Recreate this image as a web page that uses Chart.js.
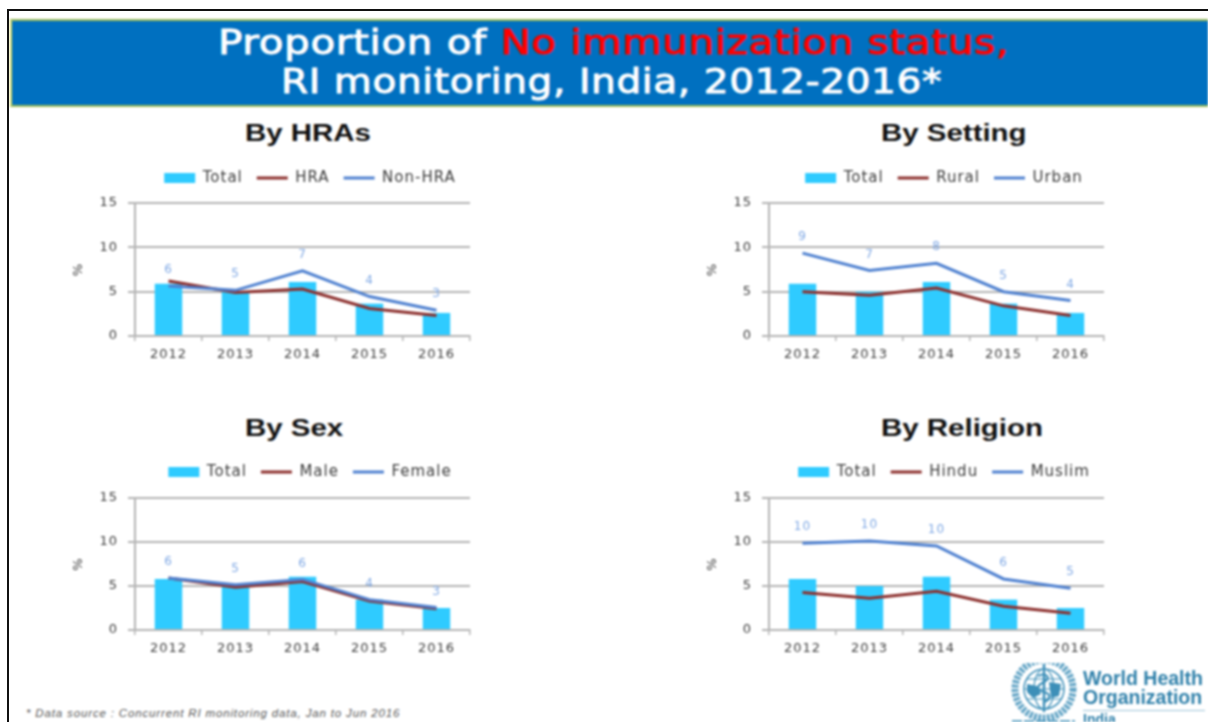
<!DOCTYPE html>
<html>
<head>
<meta charset="utf-8">
<script src="https://cdn.jsdelivr.net/npm/chart.js@4"></script>
<style>
html,body{margin:0;padding:0;background:#fff;width:1208px;height:722px;overflow:hidden}
#wrap{position:absolute;left:0;top:0;width:1208px;height:722px;overflow:hidden;filter:blur(0.85px);background:#fff}
.abs{position:absolute;white-space:nowrap}
#frameT{left:7px;top:9px;width:1201px;height:2px;background:#111}
#frameL{left:7px;top:9px;width:2px;height:713px;background:#111}
#banner{left:10px;top:19px;width:1198px;height:84px;background:#0070c0;border-top:2px solid #9bbb59;border-bottom:2px solid #9bbb59;border-left:2px solid #d8dc6a;box-sizing:content-box}
.bt{font-family:"DejaVu Sans";font-size:33px;font-weight:400;color:#fff;-webkit-text-stroke:0.9px currentColor;line-height:38px;letter-spacing:0.55px;transform-origin:0 0}
.red{color:#ff0000}
.ttl{font-family:"Liberation Sans";font-weight:700;font-size:23px;color:#111;line-height:26px;transform-origin:0 0;transform:scaleX(1.28)}
canvas{position:absolute}
#foot{left:26px;top:706px;font-family:"Liberation Sans";font-style:italic;font-size:11.5px;letter-spacing:0.85px;color:#555;line-height:14px}
.who{font-family:"Liberation Sans";font-weight:700;color:#2f80aa;font-size:19.5px;line-height:20px;left:1083px}
</style>
</head>
<body>
<div id="wrap">
  <div class="abs" id="banner"></div>
  <div class="abs bt" style="left:218px;top:24px;transform:scaleX(1.224)">Proportion of <span class="red">No immunization status,</span></div>
  <div class="abs bt" style="left:281px;top:63px;transform:scaleX(1.18)">RI monitoring, India, 2012-2016*</div>

  <div class="abs ttl" style="left:245px;top:120px">By HRAs</div>
  <div class="abs ttl" style="left:881px;top:120px">By Setting</div>
  <div class="abs ttl" style="left:245px;top:415px">By Sex</div>
  <div class="abs ttl" style="left:881px;top:415px">By Religion</div>

  <canvas id="c1" width="500" height="210" style="left:60px;top:161px;width:500px;height:210px"></canvas>
  <canvas id="c2" width="500" height="210" style="left:694px;top:161px;width:500px;height:210px"></canvas>
  <canvas id="c3" width="500" height="210" style="left:60px;top:456px;width:500px;height:210px"></canvas>
  <canvas id="c4" width="500" height="210" style="left:694px;top:456px;width:500px;height:210px"></canvas>

  <div class="abs" id="foot">* Data source : Concurrent RI monitoring data, Jan to Jun 2016</div>

  <svg class="abs" style="left:1009px;top:663px" width="72" height="60" viewBox="0 0 72 60">
    <g fill="none" stroke="#3d8fb8">
      <circle cx="35" cy="26" r="29" stroke-width="7" stroke-dasharray="3 1.4" opacity=".8"/>
      <circle cx="35" cy="26" r="20" stroke-width="1.5"/>
      <ellipse cx="35" cy="26" rx="10" ry="20" stroke-width="1.2"/>
      <path d="M15 26H55M18 16H52M18 36H52" stroke-width="1.2"/>
      <path d="M35 1V49" stroke-width="2.5"/>
      <path d="M29 13c8-4 14 2 6 6s-8 8 0 10 6 8 0 10" stroke-width="2.2"/>
    </g>
    <path d="M18 21l10 2 4 8-8 4-6-6zM40 19l12 2-2 12-8 2z" fill="#3d8fb8"/>
    <path d="M3 58H66" stroke="#3d8fb8" stroke-width="1.5" stroke-dasharray="10 2"/>
  </svg>
  <div class="abs who" style="top:668px">World Health</div>
  <div class="abs who" style="top:687px">Organization</div>
  <div class="abs" style="left:1083px;top:710px;width:122px;height:1px;background:#9cc4d8"></div>
  <div class="abs who" style="top:711px;font-size:14px;line-height:16px">India</div>
</div>
<div class="abs" id="frameT"></div>
<div class="abs" id="frameL"></div>

<script>
const years = ['2012','2013','2014','2015','2016'];

const hraTotal = [5.9, 5.0, 6.1, 3.65, 2.6];
const hraLine = [6.2, 4.9, 5.3, 3.1, 2.3];
const nonHraLine = [5.65, 5.15, 7.35, 4.45, 2.9];
const hraLabels = ['6','5','7','4','3'];

const settingTotal = [5.9, 5.0, 6.1, 3.65, 2.6];
const ruralLine = [5.0, 4.6, 5.4, 3.4, 2.3];
const urbanLine = [9.35, 7.4, 8.2, 5.0, 4.0];
const settingLabels = ['9','7','8','5','4'];

const sexTotal = [5.8, 5.0, 6.05, 3.45, 2.5];
const maleLine = [5.9, 4.85, 5.5, 3.3, 2.4];
const femaleLine = [5.9, 5.15, 5.75, 3.45, 2.55];
const sexLabels = ['6','5','6','4','3'];

const religionTotal = [5.8, 5.0, 6.05, 3.45, 2.5];
const hinduLine = [4.25, 3.6, 4.4, 2.7, 1.9];
const muslimLine = [9.85, 10.1, 9.55, 5.8, 4.75];
const religionLabels = ['10','10','10','6','5'];

const yTicks = [0, 5, 10, 15];

const BAR = '#2fcbff', RED = '#8c2f2d', BLUE = '#4f81d0', LABEL = '#7fa8e4', TXT = '#3c3c3c', GRID = '#b4b4b4';
const FONT = '"DejaVu Sans"';

const spacing = {
  id: 'spacing',
  beforeUpdate(c){ c.ctx.letterSpacing = '1px'; },
  beforeLayout(c){ c.ctx.letterSpacing = '1px'; },
  beforeDraw(c){ c.ctx.letterSpacing = '1px'; }
};
const placeLegend = {
  id: 'placeLegend',
  afterLayout(c, args, opts){
    const l = c.legend, h = l.bottom - l.top;
    l.left += opts.dx; l.right += opts.dx;
    l.top = opts.centerY - h / 2; l.bottom = l.top + h;
  }
};
const topLabels = {
  id: 'topLabels',
  afterDatasetsDraw(c, args, opts){
    const meta = c.getDatasetMeta(2), ctx = c.ctx;
    ctx.save();
    ctx.font = '12px ' + FONT;
    ctx.fillStyle = LABEL;
    ctx.textAlign = 'center';
    ctx.textBaseline = 'middle';
    meta.data.forEach((pt, i) => ctx.fillText(opts.values[i], pt.x, pt.y - 16));
    ctx.restore();
  }
};

function makeChart(id, total, nameA, a, nameB, b, labels, padBottom, legendY){
  new Chart(document.getElementById(id), {
    type: 'bar',
    plugins: [spacing, placeLegend, topLabels],
    data: {
      labels: years,
      datasets: [
        {type:'bar', label:'Total', data:total, backgroundColor:BAR, barPercentage:0.41, categoryPercentage:1, order:3},
        {type:'line', label:nameA, data:a, borderColor:RED, backgroundColor:RED, borderWidth:3, pointRadius:0, tension:0, order:2},
        {type:'line', label:nameB, data:b, borderColor:BLUE, backgroundColor:BLUE, borderWidth:3, pointRadius:0, tension:0, order:1}
      ]
    },
    options: {
      responsive:false, animation:false,
      layout:{padding:{top:3,right:90,bottom:padBottom,left:0}},
      plugins:{
        tooltip:{enabled:false},
        topLabels:{values:labels},
        placeLegend:{dx:45,centerY:legendY},
        legend:{
          position:'top', align:'center',
          labels:{
            usePointStyle:true, pointStyleWidth:31, boxHeight:10, padding:14,
            color:TXT, font:{family:FONT,size:15},
            generateLabels(c){
              return c.data.datasets.map((d,i)=>({
                text:d.label, datasetIndex:i,
                fillStyle:d.backgroundColor,
                strokeStyle:i===0?BAR:d.borderColor,
                lineWidth:i===0?0:3,
                pointStyle:i===0?'rect':'line',
                fontColor:TXT
              }));
            }
          }
        }
      },
      scales:{
        x:{
          offset:true,
          grid:{display:true,offset:true,drawOnChartArea:false,drawTicks:true,tickLength:5,color:GRID,lineWidth:1.5},
          border:{color:GRID,width:2},
          ticks:{color:TXT,font:{family:FONT,size:13},padding:6,maxRotation:0},
          afterFit(s){ s.height = 35; }
        },
        y:{
          min:0,max:15,
          afterBuildTicks(s){ s.ticks = yTicks.map(v=>({value:v})); },
          grid:{color:GRID,lineWidth:2,tickLength:7,drawTicks:true},
          border:{color:GRID,width:2},
          ticks:{color:TXT,font:{family:FONT,size:13},padding:10},
          title:{display:true,text:'%',color:TXT,font:{family:FONT,size:13},padding:{top:11,bottom:0}},
          afterFit(s){ s.width = 75; }
        }
      }
    }
  });
}
makeChart('c1', hraTotal, 'HRA', hraLine, 'Non-HRA', nonHraLine, hraLabels, 0, 15);
makeChart('c2', settingTotal, 'Rural', ruralLine, 'Urban', urbanLine, settingLabels, 0, 15);
makeChart('c3', sexTotal, 'Male', maleLine, 'Female', femaleLine, sexLabels, 1, 14);
makeChart('c4', religionTotal, 'Hindu', hinduLine, 'Muslim', muslimLine, religionLabels, 1, 14);
</script>
</body>
</html>
